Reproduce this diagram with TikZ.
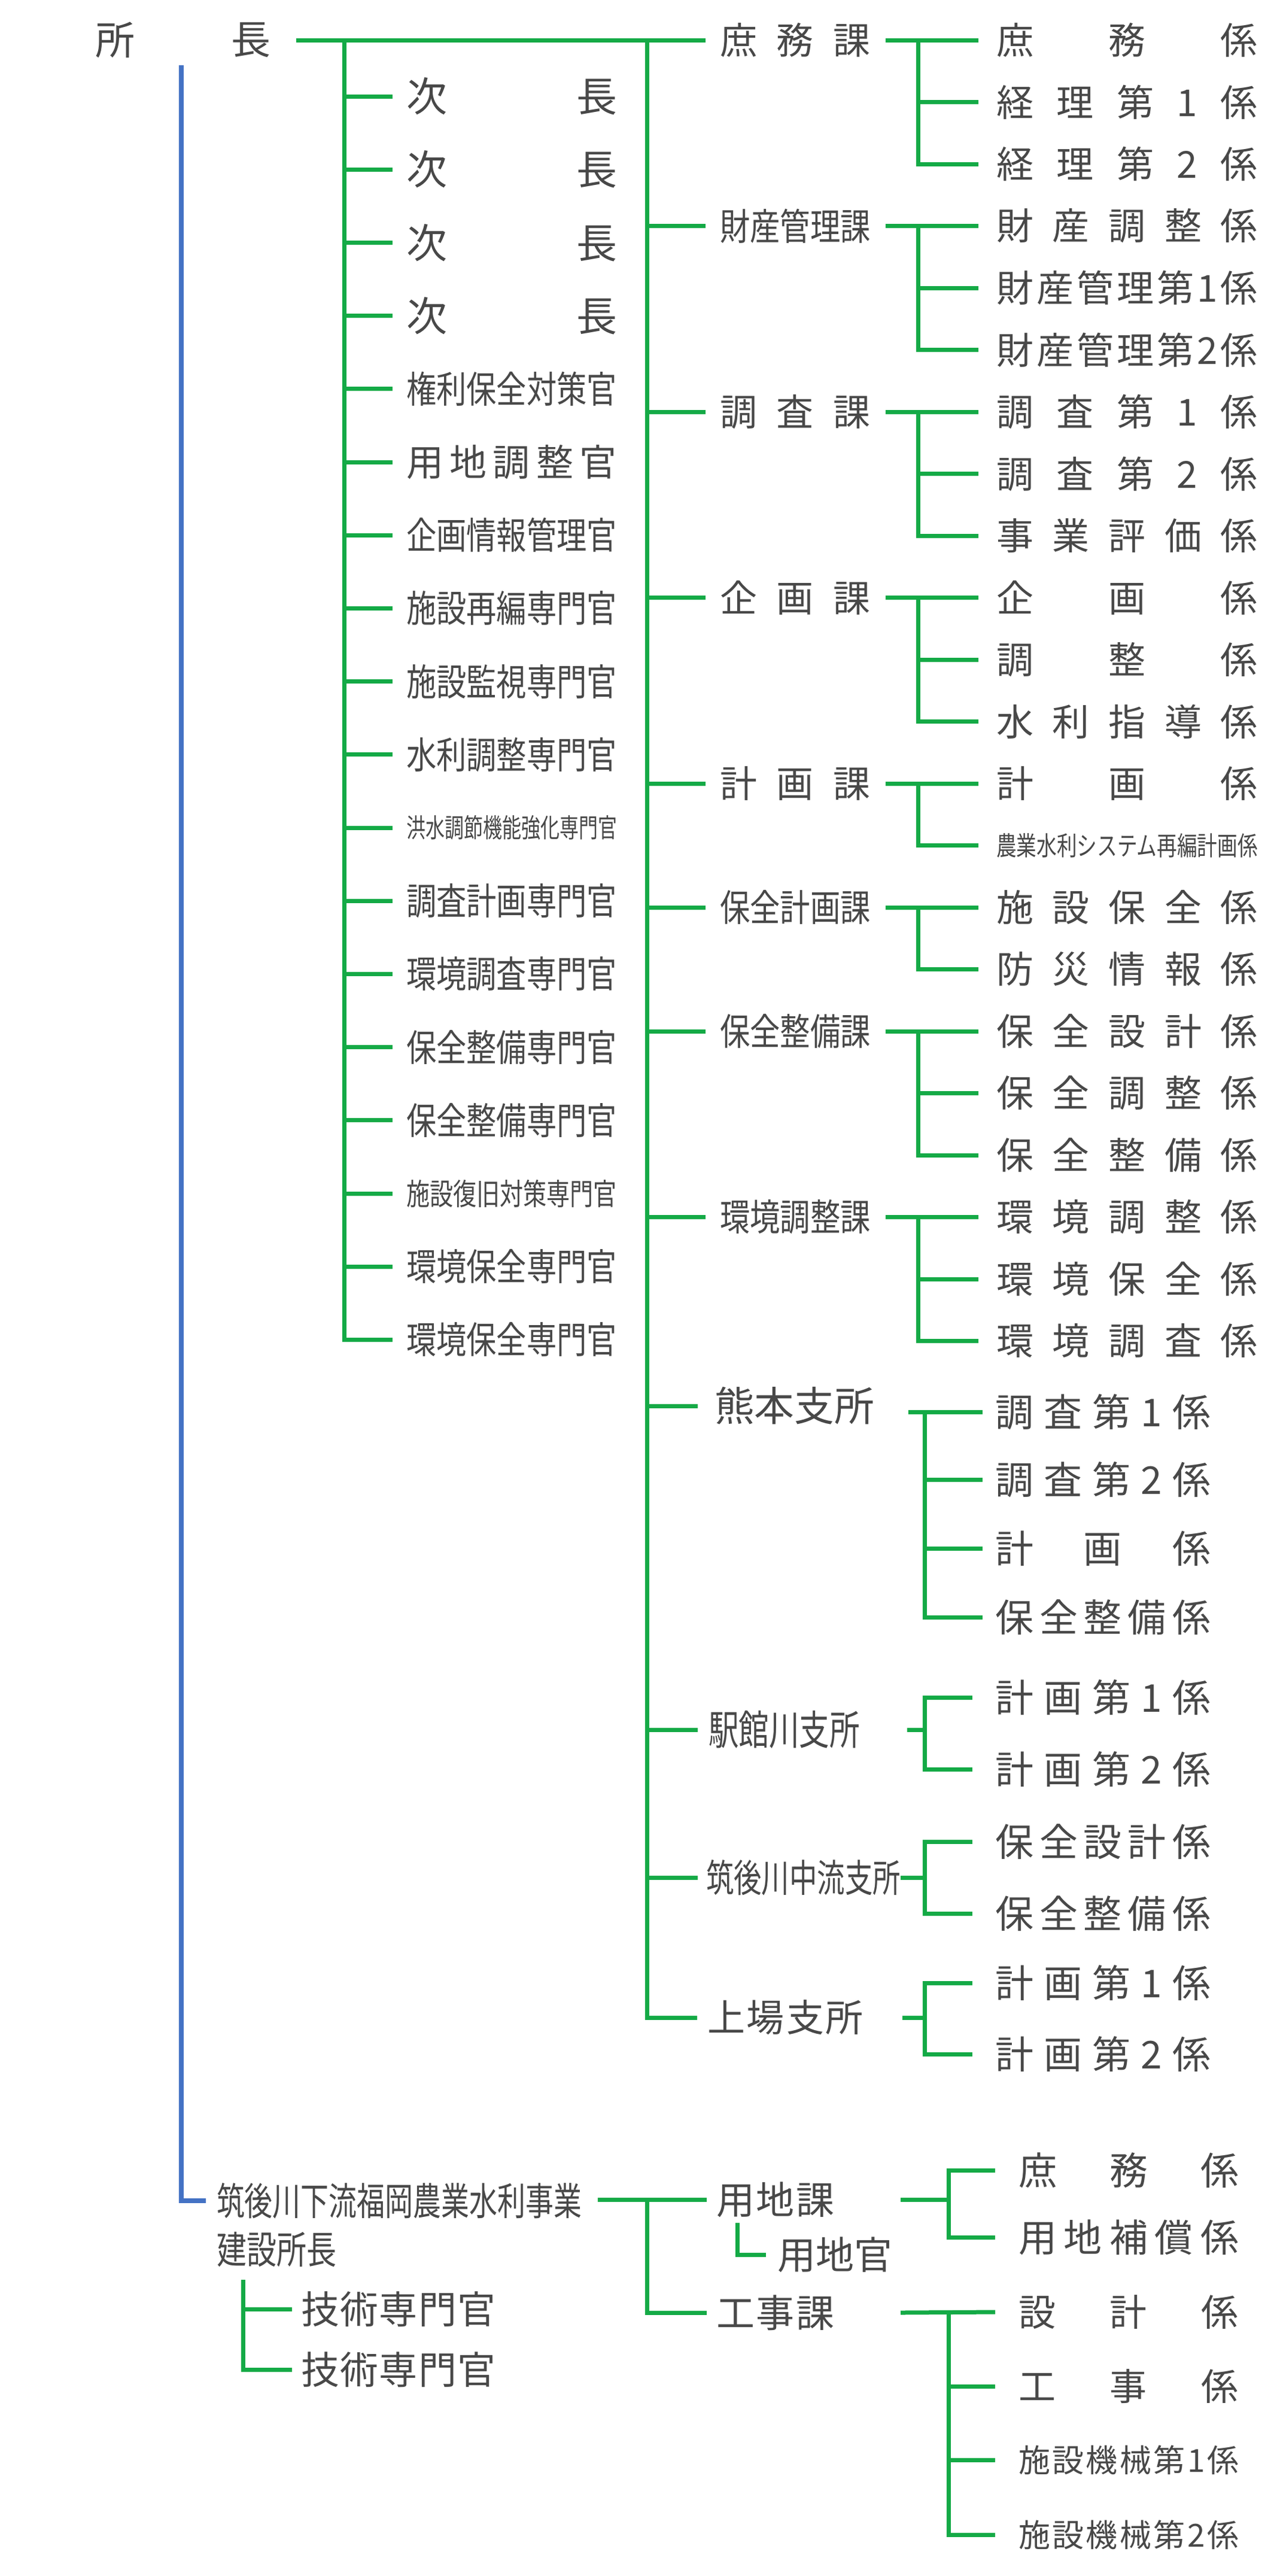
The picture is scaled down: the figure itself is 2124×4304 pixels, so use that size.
\documentclass[tikz,border=0pt]{standalone}
\usepackage{fontspec}
\usepackage{graphicx}
\newfontfamily\jp{Noto Sans CJK JP}
\definecolor{grn}{RGB}{20,170,70}
\definecolor{blu}{RGB}{68,114,196}
\definecolor{txt}{RGB}{72,72,72}
\newsavebox\labbox
\makeatletter
\def\spreadend{\spreadend@x}
\def\spreadit#1{\spreadA#1\spreadend}
\def\spreadA#1{#1\spreadB}
\def\spreadB#1{\ifx#1\spreadend\else\hfil#1\expandafter\spreadB\fi}
\makeatother
\newcommand\lab[3]{%
  \sbox\labbox{\fontsize{#2}{#2}\selectfont #3}%
  \ifdim\wd\labbox>#1pt\relax
    \resizebox{#1pt}{\height}{\usebox\labbox}%
  \else
    \hbox to #1pt{\fontsize{#2}{#2}\selectfont\spreadit{#3}}%
  \fi}
\tikzset{
  lbl/.style={inner sep=0pt, outer sep=0pt, anchor=west, text=txt, font=\jp},
  g/.style={draw=grn, line width=7pt, line join=miter},
  bl/.style={draw=blu, line width=8pt, line join=miter}
}
\begin{document}
\begin{tikzpicture}[x=1pt,y=-1pt]
\useasboundingbox (0,0) rectangle (2124,4304);
\fill[white] (0,0) rectangle (2124,4304);
% vertical reference coordinates
\coordinate (lv) at (575,0);
\coordinate (mv) at (1081,0);
\coordinate (cv) at (1534,0);
\coordinate (kv) at (1545,0);
\coordinate (yv) at (1585,0);
\coordinate (bv) at (406,0);
\coordinate (top) at (1081,67);
\coordinate (ltop) at (575,67);
\coordinate (btop) at (303,109);

% top
\node[lbl,anchor=center] (sho) at (192,67) {\fontsize{66}{66}\selectfont 所};
\node[lbl,anchor=center] (cho) at (419,67) {\fontsize{66}{66}\selectfont 長};

% left column
\node[lbl] (L1) at (679,161) {\lab{352}{68}{次長}};
\node[lbl] (L2) at (679,283.2) {\lab{352}{68}{次長}};
\node[lbl] (L3) at (679,405.4) {\lab{352}{68}{次長}};
\node[lbl] (L4) at (679,527.6) {\lab{352}{68}{次長}};
\node[lbl] (L5) at (679,649.8) {\lab{352}{62}{権利保全対策官}};
\node[lbl] (L6) at (679,772) {\lab{352}{62}{用地調整官}};
\node[lbl] (L7) at (679,894.2) {\lab{352}{62}{企画情報管理官}};
\node[lbl] (L8) at (679,1016.4) {\lab{352}{62}{施設再編専門官}};
\node[lbl] (L9) at (679,1138.6) {\lab{352}{62}{施設監視専門官}};
\node[lbl] (L10) at (679,1260.8) {\lab{352}{62}{水利調整専門官}};
\node[lbl] (L11) at (679,1383) {\lab{352}{44}{洪水調節機能強化専門官}};
\node[lbl] (L12) at (679,1505.2) {\lab{352}{62}{調査計画専門官}};
\node[lbl] (L13) at (679,1627.4) {\lab{352}{62}{環境調査専門官}};
\node[lbl] (L14) at (679,1749.6) {\lab{352}{62}{保全整備専門官}};
\node[lbl] (L15) at (679,1871.8) {\lab{352}{62}{保全整備専門官}};
\node[lbl] (L16) at (679,1994) {\lab{352}{50}{施設復旧対策専門官}};
\node[lbl] (L17) at (679,2116.2) {\lab{352}{62}{環境保全専門官}};
\node[lbl] (L18) at (679,2238.4) {\lab{352}{62}{環境保全専門官}};

% sections
\node[lbl] (S1) at (1203,67) {\lab{252}{62}{庶務課}};
\node[lbl] (S2) at (1203,377.5) {\lab{252}{62}{財産管理課}};
\node[lbl] (S3) at (1203,688) {\lab{252}{62}{調査課}};
\node[lbl] (S4) at (1203,998.5) {\lab{252}{62}{企画課}};
\node[lbl] (S5) at (1203,1309) {\lab{252}{62}{計画課}};
\node[lbl] (S6) at (1203,1516) {\lab{252}{62}{保全計画課}};
\node[lbl] (S7) at (1203,1723) {\lab{252}{62}{保全整備課}};
\node[lbl] (S8) at (1203,2033.5) {\lab{252}{62}{環境調整課}};

% right column
\node[lbl] (R0) at (1665,67) {\lab{437}{62}{庶務係}};
\node[lbl] (R1) at (1665,170.5) {\lab{437}{62}{経理第1係}};
\node[lbl] (R2) at (1665,274) {\lab{437}{62}{経理第2係}};
\node[lbl] (R3) at (1665,377.5) {\lab{437}{62}{財産調整係}};
\node[lbl] (R4) at (1665,481) {\lab{437}{62}{財産管理第1係}};
\node[lbl] (R5) at (1665,584.5) {\lab{437}{62}{財産管理第2係}};
\node[lbl] (R6) at (1665,688) {\lab{437}{62}{調査第1係}};
\node[lbl] (R7) at (1665,791.5) {\lab{437}{62}{調査第2係}};
\node[lbl] (R8) at (1665,895) {\lab{437}{62}{事業評価係}};
\node[lbl] (R9) at (1665,998.5) {\lab{437}{62}{企画係}};
\node[lbl] (R10) at (1665,1102) {\lab{437}{62}{調整係}};
\node[lbl] (R11) at (1665,1205.5) {\lab{437}{62}{水利指導係}};
\node[lbl] (R12) at (1665,1309) {\lab{437}{62}{計画係}};
\node[lbl] (R13) at (1665,1412.5) {\lab{437}{44}{農業水利システム再編計画係}};
\node[lbl] (R14) at (1665,1516) {\lab{437}{62}{施設保全係}};
\node[lbl] (R15) at (1665,1619.5) {\lab{437}{62}{防災情報係}};
\node[lbl] (R16) at (1665,1723) {\lab{437}{62}{保全設計係}};
\node[lbl] (R17) at (1665,1826.5) {\lab{437}{62}{保全調整係}};
\node[lbl] (R18) at (1665,1930) {\lab{437}{62}{保全整備係}};
\node[lbl] (R19) at (1665,2033.5) {\lab{437}{62}{環境調整係}};
\node[lbl] (R20) at (1665,2137) {\lab{437}{62}{環境保全係}};
\node[lbl] (R21) at (1665,2240.5) {\lab{437}{62}{環境調査係}};

% branch offices
\node[lbl] (K) at (1194,2349) {\lab{267}{68}{熊本支所}};
\node[lbl] (K1) at (1663,2359) {\lab{360}{64}{調査第1係}};
\node[lbl] (K2) at (1663,2472) {\lab{360}{64}{調査第2係}};
\node[lbl] (K3) at (1663,2587) {\lab{360}{64}{計画係}};
\node[lbl] (K4) at (1663,2702) {\lab{360}{64}{保全整備係}};
\coordinate (ke) at ([xshift=57pt]K.east);

\node[lbl] (E) at (1184,2890) {\lab{253}{68}{駅館川支所}};
\node[lbl] (E1) at (1663,2836) {\lab{360}{64}{計画第1係}};
\node[lbl] (E2) at (1663,2956) {\lab{360}{64}{計画第2係}};

\node[lbl] (C) at (1180,3137) {\lab{325}{64}{筑後川中流支所}};
\node[lbl] (C1) at (1663,3077) {\lab{360}{64}{保全設計係}};
\node[lbl] (C2) at (1663,3197) {\lab{360}{64}{保全整備係}};

\node[lbl] (J) at (1182,3371) {\lab{261}{63}{上場支所}};
\node[lbl] (J1) at (1663,3313) {\lab{360}{64}{計画第1係}};
\node[lbl] (J2) at (1663,3432) {\lab{360}{64}{計画第2係}};

% lower office
\node[lbl] (T) at (362,3677) {\lab{610}{64}{筑後川下流福岡農業水利事業}};
\node[lbl] (T2) at (362,3758) {\lab{200}{64}{建設所長}};
\node[lbl] (G1) at (503,3858) {\lab{326}{64}{技術専門官}};
\node[lbl] (G2) at (503,3959) {\lab{326}{64}{技術専門官}};
\node[lbl] (Y) at (1197,3675) {\lab{197}{64}{用地課}};
\node[lbl] (YK) at (1299,3767) {\lab{193}{64}{用地官}};
\node[lbl] (KJ) at (1197,3864) {\lab{197}{64}{工事課}};
\node[lbl] (Y1) at (1702,3626) {\lab{368}{64}{庶務係}};
\node[lbl] (Y2) at (1702,3738) {\lab{368}{64}{用地補償係}};
\node[lbl] (W1) at (1702,3863) {\lab{368}{62}{設計係}};
\node[lbl] (W2) at (1702,3987) {\lab{368}{62}{工事係}};
\node[lbl] (W3) at (1702,4110) {\lab{368}{53}{施設機械第1係}};
\node[lbl] (W4) at (1702,4235) {\lab{368}{53}{施設機械第2係}};
\coordinate (te) at ([xshift=27pt]T.east);

% ---- connectors ----
% blue line from the director to the lower office
\draw[bl] (btop) |- ([xshift=-18pt]T.west);
% top line from the director to the first section
\draw[g] ([xshift=43pt]cho.east) -- ([xshift=-24pt]S1.west);
% left column
\draw[g] (ltop) |- ([xshift=-23pt]L18.west);
\foreach \i in {1,...,17} \draw[g] (lv |- L\i.west) -- ([xshift=-23pt]L\i.west);
% main vertical
\draw[g] (top) |- ([xshift=-17pt]J.west);
\foreach \s in {S2,S3,S4,S5,S6,S7,S8} \draw[g] (mv |- \s.west) -- ([xshift=-24pt]\s.west);
\draw[g] (mv |- K.west) -- ([xshift=-28pt]K.west);
\draw[g] (mv |- E.west) -- ([xshift=-18pt]E.west);
\draw[g] (mv |- C.west) -- ([xshift=-14pt]C.west);
% sections to their groups
\foreach \s/\a/\b in {S1/0/2,S2/3/5,S3/6/8,S4/9/11,S5/12/13,S6/14/15,S7/16/18,S8/19/21}{
  \draw[g] ([xshift=25pt]\s.east) -- ([xshift=-30pt]R\a.west);
  \draw[g] (cv |- R\a.west) |- ([xshift=-30pt]R\b.west);
}
\foreach \m in {1,4,7,10,17,20} \draw[g] (cv |- R\m.west) -- ([xshift=-30pt]R\m.west);
% 熊本支所
\draw[g] (ke |- K1.west) -- ([xshift=-21pt]K1.west);
\draw[g] (kv |- K1.west) |- ([xshift=-21pt]K4.west);
\draw[g] (kv |- K2.west) -- ([xshift=-21pt]K2.west);
\draw[g] (kv |- K3.west) -- ([xshift=-21pt]K3.west);
% 駅館川支所
\draw[g] ([xshift=79pt]E.east) -- (kv |- E.west);
\draw[g] ([xshift=-38pt]E1.west) -| (kv |- E2.west) -- ([xshift=-38pt]E2.west);
% 筑後川中流支所
\draw[g] (C.east) -- (kv |- C.west);
\draw[g] ([xshift=-38pt]C1.west) -| (kv |- C2.west) -- ([xshift=-38pt]C2.west);
% 上場支所
\draw[g] ([xshift=65pt]J.east) -- (kv |- J.west);
\draw[g] ([xshift=-38pt]J1.west) -| (kv |- J2.west) -- ([xshift=-38pt]J2.west);
% lower office
\draw[g] (te |- Y.west) -- ([xshift=-16pt]Y.west);
\draw[g] (mv |- Y.west) |- ([xshift=-16pt]KJ.west);
\draw[g] (1232,3714) |- ([xshift=-19pt]YK.west);
\draw[g] (bv |- 0,3809) |- ([xshift=-15pt]G2.west);
\draw[g] (bv |- G1.west) -- ([xshift=-15pt]G1.west);
% 用地課 group
\draw[g] ([xshift=111pt]Y.east) -- (yv |- Y.west);
\draw[g] ([xshift=-39pt]Y1.west) -| (yv |- Y2.west) -- ([xshift=-39pt]Y2.west);
% 工事課 group
\draw[g] ([xshift=111pt]KJ.east) -- ([xshift=-39pt]W1.west);
\draw[g] (yv |- W1.west) |- ([xshift=-39pt]W4.west);
\draw[g] (yv |- W2.west) -- ([xshift=-39pt]W2.west);
\draw[g] (yv |- W3.west) -- ([xshift=-39pt]W3.west);
\end{tikzpicture}
\end{document}
